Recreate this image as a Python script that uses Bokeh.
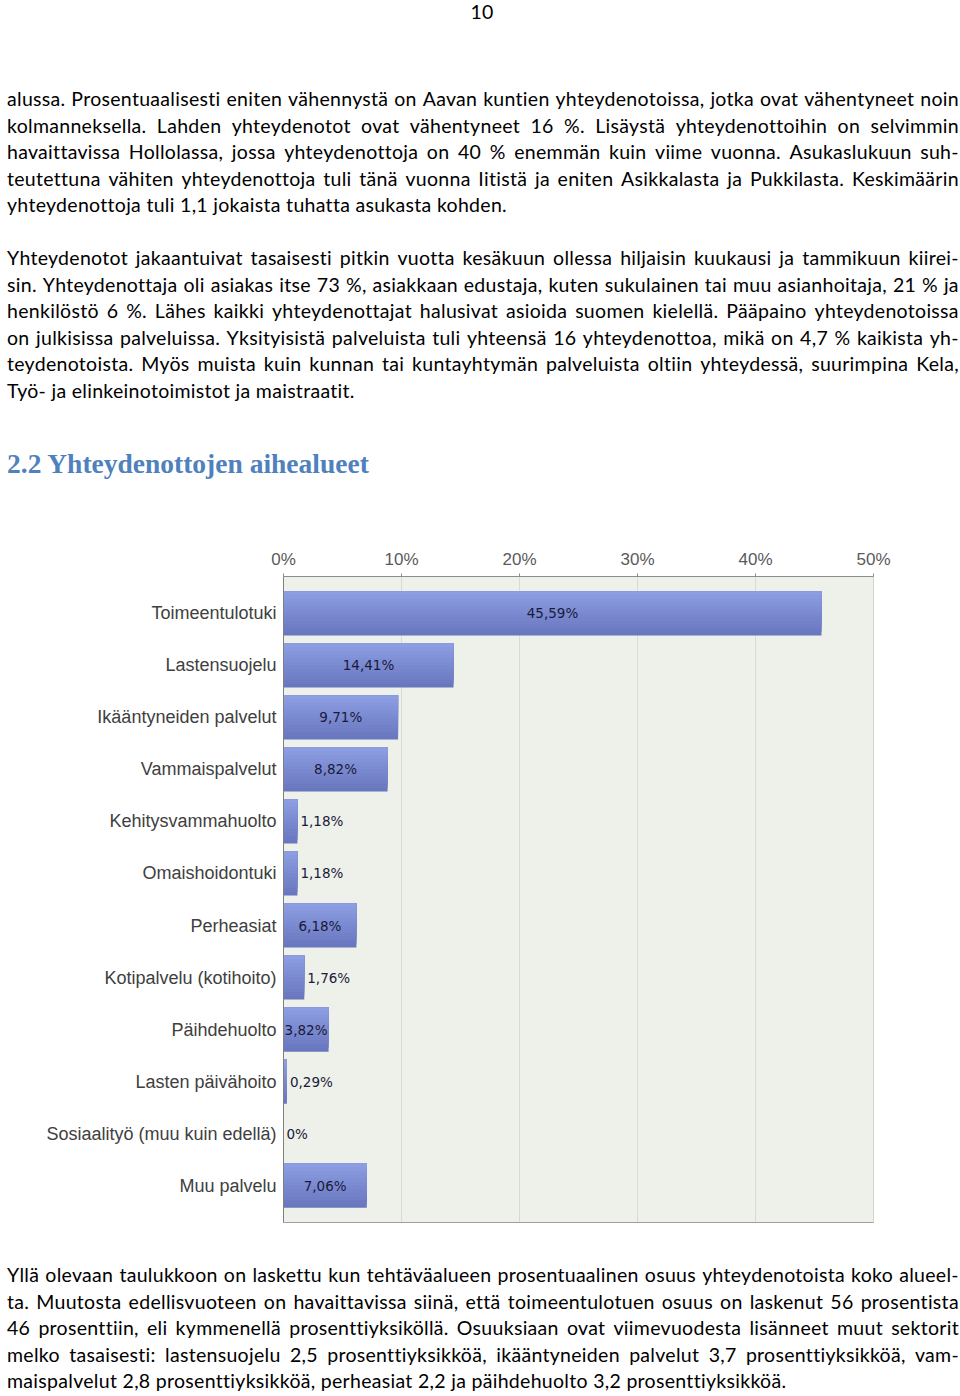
import html
from bokeh.plotting import figure
from bokeh.models import Div, Range1d, FactorRange, FixedTicker, ColumnDataSource, LinearAxis
from bokeh.layouts import column
from bokeh.transform import dodge
from bokeh.embed import file_html
from bokeh.resources import INLINE
from bokeh.core.properties import value

# ---------------- data ----------------
categories = [
    "Toimeentulotuki",
    "Lastensuojelu",
    "Ikääntyneiden palvelut",
    "Vammaispalvelut",
    "Kehitysvammahuolto",
    "Omaishoidontuki",
    "Perheasiat",
    "Kotipalvelu (kotihoito)",
    "Päihdehuolto",
    "Lasten päivähoito",
    "Sosiaalityö (muu kuin edellä)",
    "Muu palvelu",
]
shares = [45.59, 14.41, 9.71, 8.82, 1.18, 1.18, 6.18, 1.76, 3.82, 0.29, 0.0, 7.06]
share_labels = ["45,59%", "14,41%", "9,71%", "8,82%", "1,18%", "1,18%",
                "6,18%", "1,76%", "3,82%", "0,29%", "0%", "7,06%"]
x_ticks = [0, 10, 20, 30, 40, 50]
x_tick_labels = ["0%", "10%", "20%", "30%", "40%", "50%"]

page_number = "10"
para1 = [
    "alussa. Prosentuaalisesti eniten vähennystä on Aavan kuntien yhteydenotoissa, jotka ovat vähentyneet noin",
    "kolmanneksella. Lahden yhteydenotot ovat vähentyneet 16 %. Lisäystä yhteydenottoihin on selvimmin",
    "havaittavissa Hollolassa, jossa yhteydenottoja on 40 % enemmän kuin viime vuonna. Asukaslukuun suh-",
    "teutettuna vähiten yhteydenottoja tuli tänä vuonna Iitistä ja eniten Asikkalasta ja Pukkilasta. Keskimäärin",
    "yhteydenottoja tuli 1,1 jokaista tuhatta asukasta kohden.",
]
para2 = [
    "Yhteydenotot jakaantuivat tasaisesti pitkin vuotta kesäkuun ollessa hiljaisin kuukausi ja tammikuun kiirei-",
    "sin. Yhteydenottaja oli asiakas itse 73 %, asiakkaan edustaja, kuten sukulainen tai muu asianhoitaja, 21 % ja",
    "henkilöstö 6 %. Lähes kaikki yhteydenottajat halusivat asioida suomen kielellä. Pääpaino yhteydenotoissa",
    "on julkisissa palveluissa. Yksityisistä palveluista tuli yhteensä 16 yhteydenottoa, mikä on 4,7 % kaikista yh-",
    "teydenotoista. Myös muista kuin kunnan tai kuntayhtymän palveluista oltiin yhteydessä, suurimpina Kela,",
    "Työ- ja elinkeinotoimistot ja maistraatit.",
]
heading = "2.2 Yhteydenottojen aihealueet"
para3 = [
    "Yllä olevaan taulukkoon on laskettu kun tehtäväalueen prosentuaalinen osuus yhteydenotoista koko alueel-",
    "ta. Muutosta edellisvuoteen on havaittavissa siinä, että toimeentulotuen osuus on laskenut 56 prosentista",
    "46 prosenttiin, eli kymmenellä prosenttiyksiköllä. Osuuksiaan ovat viimevuodesta lisänneet muut sektorit",
    "melko tasaisesti: lastensuojelu 2,5 prosenttiyksikköä, ikääntyneiden palvelut 3,7 prosenttiyksikköä, vam-",
    "maispalvelut 2,8 prosenttiyksikköä, perheasiat 2,2 ja päihdehuolto 3,2 prosenttiyksikköä.",
]

# ---------------- text helpers ----------------
BODY_FONT = "Lato"
BODY_SIZE = 19.5
LINE_H = 26.5


def line_html(text, top, last):
    base = (f"position:absolute;left:7px;top:{top:.1f}px;width:952px;height:26px;"
            f"line-height:26px;white-space:nowrap;")
    if last:
        return f'<div style="{base}">{html.escape(text)}</div>'
    spans = "".join(f"<span>{html.escape(w)}</span>" for w in text.split(" "))
    return f'<div style="{base}display:flex;justify-content:space-between;">{spans}</div>'


def para_html(lines, first_top):
    out = []
    for i, t in enumerate(lines):
        out.append(line_html(t, first_top + i * LINE_H, i == len(lines) - 1))
    return "".join(out)


def block(inner, h):
    return (f'<div style="position:relative;width:960px;height:{h}px;overflow:hidden;'
            f'font-family:{BODY_FONT};font-size:{BODY_SIZE}px;letter-spacing:0.3px;color:#000;">'
            f'{inner}</div>')


top_inner = (
    f'<div style="position:absolute;left:0;top:0;width:964px;height:24px;text-align:center;'
    f'line-height:24px;">{html.escape(page_number)}</div>'
    + para_html(para1, 86)
    + para_html(para2, 245)
    + f'<div style="position:absolute;left:7px;top:447px;white-space:nowrap;letter-spacing:0;'
      f'font-family:\'Liberation Serif\';font-weight:bold;font-size:27.5px;color:#4f81bd;'
      f'line-height:34px;">{html.escape(heading)}</div>'
)
top_div = Div(text=block(top_inner, 540), width=960, height=540, margin=0)

bottom_div = Div(text=block(para_html(para3, 22), 156), width=960, height=156, margin=0)

# ---------------- chart ----------------
p = figure(
    width=960, height=700,
    y_range=FactorRange(factors=categories[::-1], range_padding=0.21,
                        range_padding_units="absolute"),
    x_range=Range1d(0, 50),
    x_axis_location="above",
    output_backend="svg", toolbar_location=None,
    min_border_left=283, min_border_right=87, min_border_top=36, min_border_bottom=18,
)
p.background_fill_color = "#eef0ea"
p.border_fill_color = "white"
p.outline_line_color = "#d2d4d0"

p.xgrid.ticker = FixedTicker(ticks=x_ticks)
p.xgrid.grid_line_color = "#d8dbd4"
p.ygrid.grid_line_color = None

xa = p.xaxis[0]
xa.ticker = FixedTicker(ticks=x_ticks)
xa.major_label_overrides = {t: l for t, l in zip(x_ticks, x_tick_labels)}
xa.major_tick_out = 3
xa.major_tick_in = 0
xa.minor_tick_line_color = None
xa.axis_line_color = "#8c8c8c"
xa.major_tick_line_color = "#8c8c8c"
xa.major_label_standoff = 5
xa.major_label_text_font = "Liberation Sans"
xa.major_label_text_font_size = "17px"
xa.major_label_text_color = "#5a5a5a"

# bottom frame line
bx = LinearAxis(ticker=FixedTicker(ticks=[]), major_label_text_font_size="0px",
                axis_line_color="#a0a0a0", major_tick_line_color=None,
                minor_tick_line_color=None, major_tick_out=0, major_label_standoff=0)
p.add_layout(bx, "below")

ya = p.yaxis[0]
ya.major_tick_line_color = None
ya.minor_tick_line_color = None
ya.major_tick_out = 0
ya.major_tick_in = 0
ya.axis_line_color = "#7f7f7f"
ya.major_label_standoff = 7
ya.major_label_text_font = "Liberation Sans"
ya.major_label_text_font_size = "18px"
ya.major_label_text_color = "#404040"

label_x = [v / 2 if v >= 3 else v for v in shares]
label_align = ["center" if v >= 3 else "left" for v in shares]
label_off = [0 if v >= 3 else 3 for v in shares]
src = ColumnDataSource(dict(cat=categories, val=shares, lab=share_labels,
                            lx=label_x, al=label_align, xo=label_off))

# bars with a vertical gradient (layered, top-aligned)
bar_h = 0.85
steps = 12
c_bot = (0x69, 0x77, 0xbf)
c_top = (0x8c, 0x9d, 0xe1)
for i in range(steps):
    f = i / (steps - 1)
    col = "#%02x%02x%02x" % tuple(int(round(a + (b - a) * f)) for a, b in zip(c_bot, c_top))
    hh = bar_h * (steps - i) / steps
    off = bar_h / 2 - hh / 2
    p.hbar(y=dodge("cat", off, range=p.y_range), left=0, right="val", height=hh,
           source=src, fill_color=col, line_color=None)

p.text(x="lx", y="cat", text="lab", source=src, text_align="al", x_offset="xo",
       text_baseline="middle", text_font=value("DejaVu Sans"), text_font_size="13.5px",
       text_color="#1a1a3a")

layout = column(top_div, p, bottom_div, spacing=0)

with open("out.html", "w") as fh:
    fh.write(file_html(layout, INLINE))
